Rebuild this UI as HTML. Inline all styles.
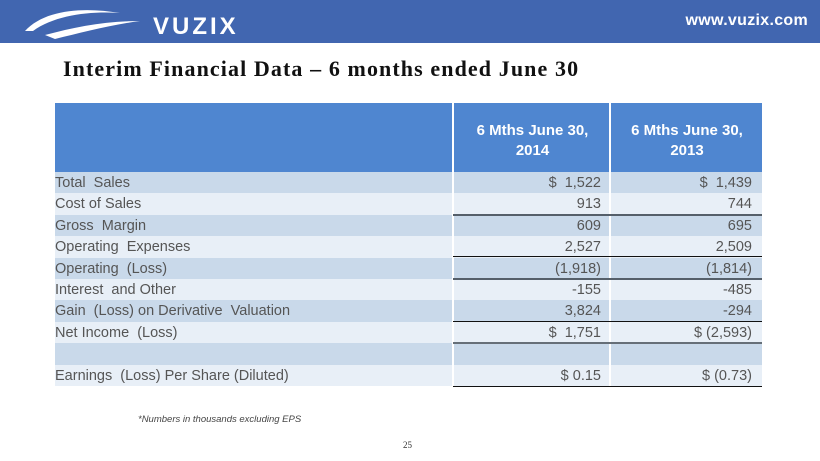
<!DOCTYPE html>
<html><head><style>
body{margin:0;width:820px;height:461px;background:#fff;position:relative;overflow:hidden;font-family:"Liberation Sans",Arial,sans-serif}
.bar{position:absolute;left:0;top:0;width:820px;height:43px;background:#4166b0}
.url{position:absolute;right:12px;top:12px;color:#fff;font-weight:bold;font-size:16px;letter-spacing:0.3px}
.title{position:absolute;left:63px;top:56px;font-family:"Liberation Serif",serif;font-weight:bold;font-size:22px;letter-spacing:1.1px;color:#111}
.row{position:absolute;left:55px;width:707px;height:21.4px;font-size:14.5px;color:#555}
.row span{position:absolute;top:3px}
.l{left:0}
.c2{right:161px}
.c3{right:10px}
.hr{position:absolute;height:2px;left:453px;width:309px}
.vs{position:absolute;top:103px;width:2px;height:283px;background:#fff}
</style></head><body>
<div class="bar">
<svg style="position:absolute;left:15px;top:5px" width="260" height="36">
<path d="M10 26 C30 4,70 2,105 8 C75 6,40 10,18 26 Z" fill="#fff"/>
<path d="M30 30 C60 22,90 16,125 16 C95 20,65 28,40 34 Z" fill="#fff"/>
<text x="138" y="29" font-family="Liberation Sans" font-weight="bold" font-size="24" fill="#fff" letter-spacing="3">VUZIX</text>
</svg>
<div class="url">www.vuzix.com</div></div>
<div class="title">Interim Financial Data – 6 months ended June 30</div>
<div style="position:absolute;left:55px;top:103px;width:707px;height:69px;background:#4f86d0"></div>
<div style="position:absolute;left:455px;top:121px;width:155px;text-align:center;color:#fff;font-weight:bold;font-size:15px;line-height:20px">6 Mths June 30,<br>2014</div>
<div style="position:absolute;left:612px;top:121px;width:150px;text-align:center;color:#fff;font-weight:bold;font-size:15px;line-height:20px">6 Mths June 30,<br>2013</div>
<div class="row" style="top:172px;background:#c9d9ea"><span class="l">Total&nbsp; Sales</span><span class="c2">$&nbsp; 1,522</span><span class="c3">$&nbsp; 1,439</span></div>
<div class="row" style="top:193.4px;background:#e8eff7"><span class="l">Cost of Sales</span><span class="c2">913</span><span class="c3">744</span></div>
<div class="row" style="top:214.8px;background:#c9d9ea"><span class="l">Gross&nbsp; Margin</span><span class="c2">609</span><span class="c3">695</span></div>
<div class="row" style="top:236.2px;background:#e8eff7"><span class="l">Operating&nbsp; Expenses</span><span class="c2">2,527</span><span class="c3">2,509</span></div>
<div class="row" style="top:257.6px;background:#c9d9ea"><span class="l">Operating&nbsp; (Loss)</span><span class="c2">(1,918)</span><span class="c3">(1,814)</span></div>
<div class="row" style="top:279px;background:#e8eff7"><span class="l">Interest&nbsp; and Other</span><span class="c2">-155</span><span class="c3">-485</span></div>
<div class="row" style="top:300.4px;background:#c9d9ea"><span class="l">Gain&nbsp; (Loss) on Derivative&nbsp; Valuation</span><span class="c2">3,824</span><span class="c3">-294</span></div>
<div class="row" style="top:321.8px;background:#e8eff7"><span class="l">Net Income&nbsp; (Loss)</span><span class="c2">$&nbsp; 1,751</span><span class="c3">$ (2,593)</span></div>
<div class="row" style="top:343.2px;background:#c9d9ea"></div>
<div class="row" style="top:364.6px;background:#e8eff7"><span class="l">Earnings&nbsp; (Loss) Per Share (Diluted)</span><span class="c2">$ 0.15</span><span class="c3">$ (0.73)</span></div>
<div class="vs" style="left:452px"></div>
<div class="vs" style="left:609px"></div>
<div class="hr" style="top:213.5px;background:#555f6a"></div>
<div class="hr" style="top:256px;height:1px;background:#111"></div>
<div class="hr" style="top:277.5px;background:#555f6a"></div>
<div class="hr" style="top:321px;height:1px;background:#111"></div>
<div class="hr" style="top:342px;height:2px;background:#666f78"></div>
<div class="hr" style="top:386px;height:1px;background:#111"></div>
<div style="position:absolute;left:138px;top:414px;font-size:9.5px;font-style:italic;color:#444">*Numbers in thousands excluding EPS</div>
<div style="position:absolute;left:403px;top:440px;font-size:9px;font-family:'Liberation Serif',serif;color:#333">25</div>
</body></html>
